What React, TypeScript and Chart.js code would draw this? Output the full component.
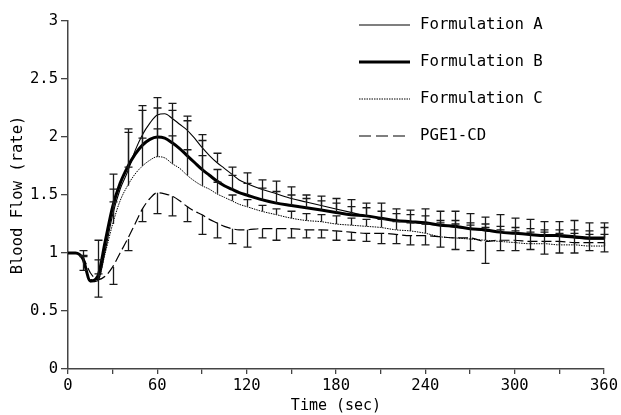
import React, { useEffect, useRef } from 'react';
import { Chart, registerables } from 'chart.js';

Chart.register(...registerables);

// Time axis (sec)
const TIME = [
  0, 5, 10, 15, 20, 25, 30, 35, 40, 45, 50, 55, 60, 65, 70, 75, 80, 85, 90, 95, 100, 105, 110, 115, 120,
  130, 140, 150, 160, 170, 180, 190, 200, 210, 220, 230, 240, 250, 260, 270, 280, 290, 300, 310, 320, 330, 340, 350, 360,
];

const FORM_A = [
  1.0, 1.0, 0.95, 0.75, 0.76, 1.02, 1.33, 1.55, 1.7, 1.88, 2.02, 2.12, 2.19, 2.2, 2.16, 2.11, 2.06, 1.99, 1.91, 1.84, 1.78, 1.73, 1.68, 1.63, 1.6,
  1.55, 1.51, 1.47, 1.44, 1.41, 1.38, 1.35, 1.32, 1.3, 1.28, 1.27, 1.25, 1.24, 1.22, 1.21, 1.19, 1.18, 1.17, 1.16, 1.15, 1.14, 1.13, 1.12, 1.12,
];

const FORM_B = [
  1.0, 1.0, 0.95, 0.76, 0.8, 1.1, 1.4, 1.6, 1.74, 1.85, 1.93, 1.98, 2.0, 1.99, 1.95, 1.9, 1.84, 1.78, 1.72, 1.67, 1.62, 1.58, 1.55, 1.52, 1.5,
  1.46, 1.43, 1.41, 1.39, 1.37, 1.35, 1.33, 1.32, 1.3, 1.28, 1.27, 1.26, 1.24, 1.23, 1.21, 1.2, 1.18, 1.17, 1.16, 1.15, 1.15, 1.14, 1.13, 1.13,
];

const FORM_C = [
  1.0, 1.0, 0.95, 0.77, 0.77, 1.0, 1.25, 1.45, 1.58, 1.68, 1.75, 1.8, 1.83, 1.82, 1.77, 1.73, 1.67, 1.62, 1.58, 1.55, 1.51, 1.48, 1.45, 1.42, 1.4,
  1.36, 1.33, 1.3, 1.28, 1.27, 1.25, 1.24, 1.23, 1.22, 1.2, 1.19, 1.17, 1.14, 1.13, 1.12, 1.11, 1.1, 1.09, 1.08, 1.08, 1.07, 1.07, 1.06, 1.06,
];

const PGE1_CD = [
  1.0, 1.0, 0.96, 0.83, 0.77, 0.8, 0.88, 1.0, 1.12, 1.25, 1.38, 1.47, 1.52, 1.51, 1.49, 1.45, 1.4, 1.36, 1.33, 1.29, 1.26, 1.23, 1.21, 1.2, 1.2,
  1.21, 1.21, 1.21, 1.2, 1.2, 1.19, 1.18, 1.17, 1.17, 1.16, 1.15, 1.15, 1.14, 1.13, 1.13, 1.1, 1.11, 1.11, 1.1, 1.1, 1.1, 1.09, 1.09, 1.09,
];

// Error bars (every 10 sec)
const ERR_TIME = [
  10, 20, 30, 40, 50, 60, 70, 80, 90, 100, 110, 120, 130, 140, 150, 160, 170, 180,
  190, 200, 210, 220, 230, 240, 250, 260, 270, 280, 290, 300, 310, 320, 330, 340, 350, 360,
];
const ERR_A = [
  0.07, 0.35, 0.35, 0.37, 0.25, 0.15, 0.13, 0.12, 0.11, 0.08, 0.06, 0.09, 0.08, 0.11, 0.1, 0.06, 0.08, 0.09,
  0.11, 0.11, 0.13, 0.1, 0.1, 0.13, 0.12, 0.14, 0.13, 0.12, 0.15, 0.13, 0.13, 0.12, 0.13, 0.15, 0.14, 0.14,
];
const ERR_B = [
  0.03, 0.14, 0.15, 0.3, 0.3, 0.25, 0.28, 0.3, 0.25, 0.1, 0.12, 0.1, 0.1, 0.1, 0.09, 0.08, 0.08, 0.08,
  0.07, 0.07, 0.06, 0.06, 0.06, 0.06, 0.04, 0.05, 0.05, 0.05, 0.05, 0.05, 0.05, 0.05, 0.05, 0.06, 0.06, 0.09,
];
const ERR_C = [
  0.02, 0.05, 0.19, 0.16, 0.24, 0.24, 0.24, 0.22, 0.26, 0.1, 0.05, 0.06, 0.05, 0.05, 0.06, 0.06, 0.06, 0.07,
  0.06, 0.06, 0.07, 0.07, 0.07, 0.08, 0.12, 0.12, 0.12, 0.11, 0.1, 0.1, 0.1, 0.1, 0.1, 0.1, 0.1, 0.1,
];
const ERR_PGE = [
  0.11, 0.15, 0.15, 0.1, 0.11, 0.18, 0.17, 0.13, 0.17, 0.13, 0.13, 0.15, 0.08, 0.1, 0.08, 0.07, 0.07, 0.08,
  0.07, 0.07, 0.09, 0.08, 0.08, 0.08, 0.09, 0.1, 0.11, 0.19, 0.09, 0.09, 0.07, 0.11, 0.1, 0.09, 0.07, 0.08,
];

const SERIES_NAMES = ['Formulation A', 'Formulation B', 'Formulation C', 'PGE1-CD'];
const Y_TICKS = [0, 0.5, 1, 1.5, 2, 2.5, 3];
const Y_TICK_LABELS = ['0', '0.5', '1', '1.5', '2', '2.5', '3'];
const X_LABEL = 'Time (sec)';
const Y_LABEL = 'Blood Flow (rate)';

const FONT = "'DejaVu Sans Mono', 'Liberation Mono', monospace";

const STYLES = [
  { width: 1.1, dash: [] as number[] },
  { width: 3, dash: [] as number[] },
  { width: 1, dash: [1.5, 1] },
  { width: 1.2, dash: [10, 4] },
];

const ERROR_SETS = [
  { values: FORM_A, err: ERR_A, dir: 1 },
  { values: FORM_B, err: ERR_B, dir: 1 },
  { values: FORM_C, err: ERR_C, dir: 1 },
  { values: PGE1_CD, err: ERR_PGE, dir: -1 },
];

const errorBarPlugin = {
  id: 'errorBars',
  afterDatasetsDraw(chart: any) {
    const { ctx } = chart;
    const x = chart.scales.x;
    const y = chart.scales.y;
    ctx.save();
    ctx.strokeStyle = '#1a1a1a';
    ctx.lineWidth = 1.3;
    ctx.setLineDash([]);
    ERROR_SETS.forEach((set) => {
      ERR_TIME.forEach((t, i) => {
        const idx = TIME.indexOf(t);
        if (idx < 0) return;
        const m = set.values[idx];
        const px = Math.round(x.getPixelForValue(t)) + 0.5;
        const y0 = y.getPixelForValue(m);
        const y1 = y.getPixelForValue(m + set.dir * set.err[i]);
        ctx.beginPath();
        ctx.moveTo(px, y0);
        ctx.lineTo(px, y1);
        ctx.moveTo(px - 4, y1);
        ctx.lineTo(px + 4, y1);
        ctx.stroke();
      });
    });
    ctx.restore();
  },
};

const legendPlugin = {
  id: 'customLegend',
  afterDraw(chart: any) {
    const { ctx } = chart;
    const x0 = 359;
    const x1 = 410;
    const tx = 420;
    const rows = [25, 62, 99, 136];
    ctx.save();
    SERIES_NAMES.forEach((name, i) => {
      const yy = rows[i];
      ctx.strokeStyle = '#000';
      ctx.lineWidth = STYLES[i].width;
      ctx.setLineDash(i === 3 ? [12, 5] : STYLES[i].dash);
      ctx.beginPath();
      ctx.moveTo(x0, yy);
      ctx.lineTo(x1, yy);
      ctx.stroke();
      ctx.setLineDash([]);
      ctx.fillStyle = '#000';
      ctx.font = `15.7px ${FONT}`;
      ctx.textBaseline = 'middle';
      ctx.textAlign = 'left';
      ctx.fillText(name, tx, yy);
    });
    ctx.restore();
  },
};

export default function App() {
  const canvasRef = useRef<HTMLCanvasElement | null>(null);

  useEffect(() => {
    if (!canvasRef.current) return;
    const seriesValues = [FORM_A, FORM_B, FORM_C, PGE1_CD];
    const chart = new Chart(canvasRef.current, {
      type: 'line',
      data: {
        datasets: seriesValues.map((vals, i) => ({
          label: SERIES_NAMES[i],
          data: TIME.map((t, j) => ({ x: t, y: vals[j] })),
          borderColor: '#000',
          backgroundColor: '#000',
          borderWidth: STYLES[i].width,
          borderDash: STYLES[i].dash,
          pointRadius: 0,
          fill: false,
          cubicInterpolationMode: 'monotone' as const,
        })),
      },
      options: {
        animation: false,
        responsive: true,
        maintainAspectRatio: false,
        layout: { padding: { left: 8, right: 15, top: 21, bottom: 0 } },
        plugins: {
          legend: { display: false },
          tooltip: { enabled: false },
        },
        scales: {
          x: {
            type: 'linear',
            min: 0,
            max: 360,
            afterFit: (s: any) => {
              s.height = 46;
            },
            ticks: {
              stepSize: 30,
              autoSkip: false,
              maxRotation: 0,
              padding: 3,
              color: '#000',
              font: { family: FONT, size: 15.5 },
              callback: (v: any) => (Number(v) % 60 === 0 ? String(v) : ''),
            },
            grid: {
              display: true,
              drawOnChartArea: false,
              drawTicks: true,
              tickLength: 5,
              color: '#444',
              lineWidth: 1.3,
            },
            border: { display: true, color: '#444', width: 1.5 },
            title: {
              display: true,
              text: X_LABEL,
              color: '#000',
              font: { family: FONT, size: 15 },
              padding: { top: 0, bottom: 0 },
            },
          },
          y: {
            type: 'linear',
            min: 0,
            max: 3,
            afterFit: (s: any) => {
              s.width = 60;
            },
            afterBuildTicks: (s: any) => {
              s.ticks = Y_TICKS.map((v) => ({ value: v }));
            },
            ticks: {
              padding: 3,
              color: '#000',
              font: { family: FONT, size: 15.5 },
              callback: (v: any) => {
                const k = Y_TICKS.indexOf(Number(v));
                return k >= 0 ? Y_TICK_LABELS[k] : '';
              },
            },
            grid: {
              display: true,
              drawOnChartArea: false,
              drawTicks: true,
              tickLength: 7,
              color: '#444',
              lineWidth: 1.3,
            },
            border: { display: true, color: '#444', width: 1.5 },
            title: {
              display: true,
              text: Y_LABEL,
              color: '#000',
              font: { family: FONT, size: 15.5 },
              padding: { top: 1, bottom: 0 },
            },
          },
        },
      },
      plugins: [errorBarPlugin, legendPlugin],
    });
    return () => chart.destroy();
  }, []);

  return (
    <div style={{ position: 'absolute', left: 0, top: 0, width: 621, height: 415, background: '#fff' }}>
      <canvas ref={canvasRef} />
    </div>
  );
}
